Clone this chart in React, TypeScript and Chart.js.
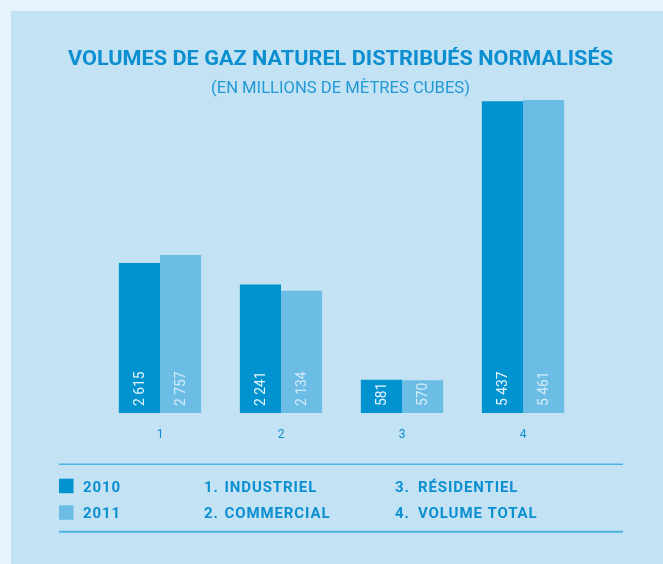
import React, { useEffect, useRef } from "react";
import { Chart, registerables } from "chart.js";

Chart.register(...registerables);

const categories = ["1", "2", "3", "4"];
const categoryNames = ["INDUSTRIEL", "COMMERCIAL", "RÉSIDENTIEL", "VOLUME TOTAL"];
const seriesLabels = ["2010", "2011"];
const values2010 = [2615, 2241, 581, 5437];
const values2011 = [2757, 2134, 570, 5461];
const titleText = "VOLUMES DE GAZ NATUREL DISTRIBUÉS NORMALISÉS";
const subtitleText = "(EN MILLIONS DE MÈTRES CUBES)";
const yMax = 6000;

const DARK = "#0093d0";
const LIGHT = "#6cbde6";
const PANEL = "#c3e2f3";
const OUTER = "#e7f3fa";
const TEXT = "#0b8fd0";
const LINE = "#4db3e3";
const FONT = "Roboto, 'DejaVu Sans', sans-serif";

const fmt = (v: number) => String(v).replace(/\B(?=(\d{3})+(?!\d))/g, " ");

function fitText(ctx: CanvasRenderingContext2D, text: string, cx: number, y: number, width: number) {
  const w = ctx.measureText(text).width;
  ctx.save();
  ctx.translate(cx - width / 2, y);
  ctx.scale(width / w, 1);
  ctx.textAlign = "left";
  ctx.fillText(text, 0, 0);
  ctx.restore();
}

const decorPlugin = {
  id: "decor",
  afterDatasetsDraw(chart: any) {
    const ctx: CanvasRenderingContext2D = chart.ctx;
    chart.data.datasets.forEach((ds: any, i: number) => {
      const meta = chart.getDatasetMeta(i);
      meta.data.forEach((bar: any, j: number) => {
        const { x, base } = bar.getProps(["x", "base"], true);
        ctx.save();
        ctx.translate(x, base - 7);
        ctx.rotate(-Math.PI / 2);
        ctx.font = `15px ${FONT}`;
        ctx.fillStyle = i === 0 ? "#e6f4fc" : "#d3ebf8";
        ctx.textAlign = "left";
        ctx.textBaseline = "middle";
        const t = fmt(ds.data[j]);
        const w = ctx.measureText(t).width;
        ctx.scale(0.92, 1);
        ctx.fillText(t, 0, 1);
        void w;
        ctx.restore();
      });
    });
  },
  afterDraw(chart: any) {
    const ctx: CanvasRenderingContext2D = chart.ctx;
    const cw = chart.width;
    ctx.save();
    ctx.textBaseline = "alphabetic";
    // title
    ctx.fillStyle = TEXT;
    ctx.font = `bold 21px ${FONT}`;
    fitText(ctx, titleText, cw / 2, 54, 545);
    ctx.fillStyle = "#2399d6";
    ctx.font = `16px ${FONT}`;
    fitText(ctx, subtitleText, cw / 2, 81.7, 259);

    // legend lines
    ctx.strokeStyle = LINE;
    ctx.lineWidth = 1.5;
    ctx.beginPath();
    ctx.moveTo(48, 453.3);
    ctx.lineTo(612, 453.3);
    ctx.stroke();
    ctx.lineWidth = 2;
    ctx.beginPath();
    ctx.moveTo(48, 520.7);
    ctx.lineTo(612, 520.7);
    ctx.stroke();

    const rowBase = [480.7, 507.3];
    const rowSq = [467.7, 494.3];
    ctx.font = `bold 15px ${FONT}`;
    (ctx as any).letterSpacing = "0.9px";
    ctx.textAlign = "left";
    chart.data.datasets.forEach((ds: any, i: number) => {
      ctx.fillStyle = ds.backgroundColor;
      ctx.fillRect(48, rowSq[i], 14.5, 14.5);
      ctx.fillStyle = TEXT;
      ctx.fillText(ds.label, 72, rowBase[i]);
    });
    const colNum = [193, 384];
    const colName = [213.5, 407];
    categoryNames.forEach((name, k) => {
      const col = Math.floor(k / 2);
      const row = k % 2;
      ctx.fillStyle = TEXT;
      ctx.fillText(categories[k] + ".", colNum[col], rowBase[row]);
      ctx.fillText(name, colName[col], rowBase[row]);
    });
    ctx.restore();
  },
};

export default function App() {
  const canvasRef = useRef<HTMLCanvasElement>(null);

  useEffect(() => {
    if (!canvasRef.current) return;
    const chart = new Chart(canvasRef.current, {
      type: "bar",
      data: {
        labels: categories,
        datasets: [
          { label: seriesLabels[0], data: values2010, backgroundColor: DARK, borderWidth: 0 },
          { label: seriesLabels[1], data: values2011, backgroundColor: LIGHT, borderWidth: 0 },
        ],
      },
      options: {
        animation: false,
        responsive: true,
        maintainAspectRatio: false,
        layout: { padding: { top: 58.1, bottom: 121, left: 88.5, right: 86.5 } },
        datasets: { bar: { categoryPercentage: 0.68, barPercentage: 1 } },
        plugins: {
          legend: { display: false },
          title: { display: false },
          tooltip: { enabled: false },
        },
        scales: {
          x: {
            grid: { display: false },
            border: { display: false },
            ticks: { color: TEXT, font: { family: FONT, size: 12 }, padding: 7 },
            afterFit: (scale: any) => {
              scale.height = 30;
            },
          },
          y: { display: false, min: 0, max: yMax },
        },
      },
      plugins: [decorPlugin],
    });
    return () => chart.destroy();
  }, []);

  return (
    <div
      style={{
        position: "fixed",
        left: 0,
        top: 0,
        width: 663,
        height: 564,
        overflow: "hidden",
        background: OUTER,
      }}
    >
      <div style={{ position: "absolute", left: 11, top: 11, width: 659, height: 553, background: PANEL }}>
        <canvas ref={canvasRef} />
      </div>
    </div>
  );
}
